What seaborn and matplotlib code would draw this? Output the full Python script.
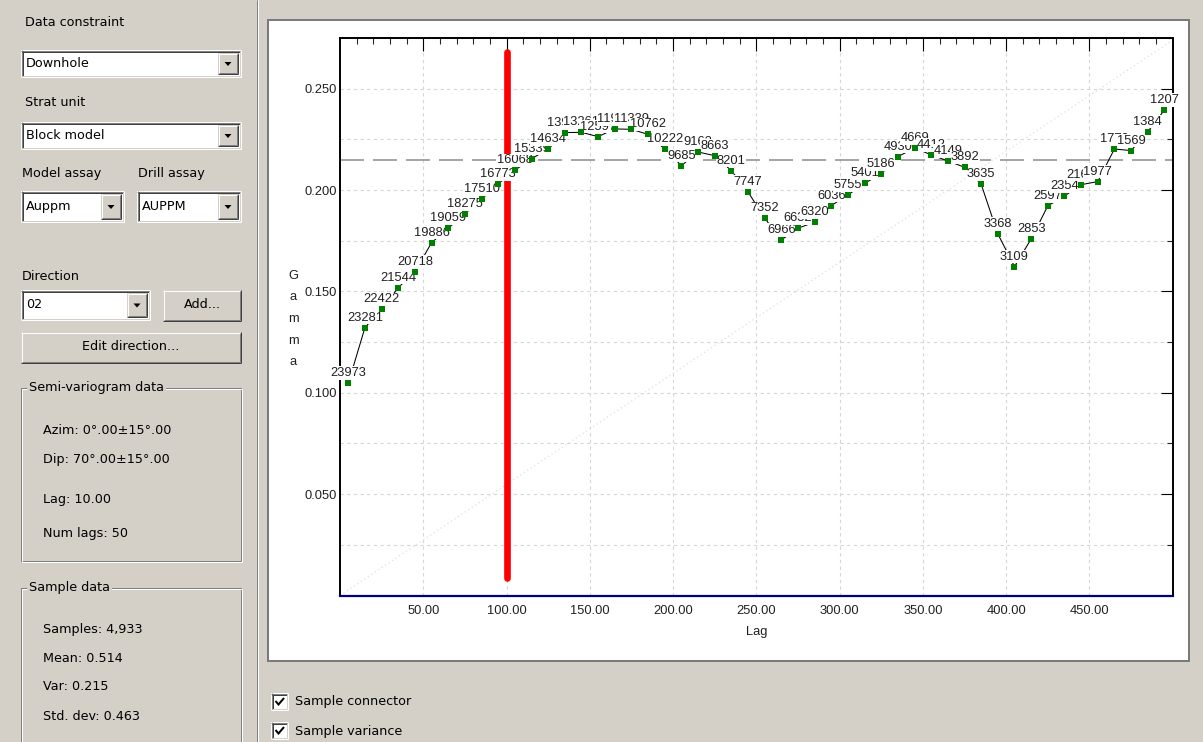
import numpy as np
import pandas as pd
import matplotlib
matplotlib.use("Agg")
import matplotlib.pyplot as plt
import seaborn as sns
from matplotlib import font_manager
from matplotlib.patches import Rectangle, Polygon
from matplotlib.ticker import FixedLocator, FormatStrFormatter

# ── data ─────────────────────────────────────────────────────
lags = [5, 15, 25, 35, 45, 55, 65, 75, 85, 95,
        105, 115, 125, 135, 145, 155, 165, 175, 185, 195,
        205, 215, 225, 235, 245, 255, 265, 275, 285, 295,
        305, 315, 325, 335, 345, 355, 365, 375, 385, 395,
        405, 415, 425, 435, 445, 455, 465, 475, 485, 495]
gamma = [0.1048, 0.1322, 0.1413, 0.1519, 0.1597, 0.1741, 0.1812, 0.1883, 0.1955, 0.2031,
         0.2098, 0.2155, 0.2202, 0.2284, 0.2285, 0.2264, 0.2302, 0.2300, 0.2275, 0.2202,
         0.2121, 0.2188, 0.2170, 0.2096, 0.1991, 0.1862, 0.1754, 0.1812, 0.1842, 0.1924,
         0.1976, 0.2034, 0.2080, 0.2165, 0.2208, 0.2174, 0.2144, 0.2113, 0.2029, 0.1784,
         0.1623, 0.1759, 0.1922, 0.1971, 0.2027, 0.2042, 0.2203, 0.2195, 0.2288, 0.2395]
pairs = [23973, 23281, 22422, 21544, 20718, 19886, 19059, 18275, 17510, 16773,
         16068, 15339, 14634, 13943, 13261, 12597, 11946, 11339, 10762, 10222,
         9685, 9162, 8663, 8201, 7747, 7352, 6966, 6632, 6320, 6036,
         5755, 5401, 5186, 4930, 4669, 4412, 4149, 3892, 3635, 3368,
         3109, 2853, 2597, 2354, 2160, 1977, 1770, 1569, 1384, 1207]

sill = 0.215                  # sample variance
range_lag = 100.0             # red range marker
range_span = [0.0088, 0.268]
model_lag = [0, 500]
model_gamma = [0.0, 0.274]

x_major = [50, 100, 150, 200, 250, 300, 350, 400, 450]
x_minor = [10, 20, 30, 40, 60, 70, 80, 90, 110, 120, 130, 140, 160, 170, 180, 190,
           210, 220, 230, 240, 260, 270, 280, 290, 310, 320, 330, 340, 360, 370, 380, 390,
           410, 420, 430, 440, 460, 470, 480, 490]
y_major = [0.05, 0.10, 0.15, 0.20, 0.25]
y_minor = [0.025, 0.075, 0.125, 0.175, 0.225, 0.275]

left_labels = ["Data constraint", "Strat unit", "Model assay", "Drill assay", "Direction"]
combo_texts = ["Downhole", "Block model", "Auppm", "AUPPM", "02"]
variogram_info = ["Azim: 0°.00±15°.00", "Dip: 70°.00±15°.00", "Lag: 10.00", "Num lags: 50"]
sample_info = ["Samples: 4,933", "Mean: 0.514", "Var: 0.215", "Std. dev: 0.463"]
checkbox_texts = ["Sample connector", "Sample variance"]

df = pd.DataFrame({"Lag": lags, "Gamma": gamma, "Pairs": pairs})

# ── styling ──────────────────────────────────────────────────
sns.set_style("white")
names = {f.name for f in font_manager.fontManager.ttflist}
if "Liberation Sans Narrow" in names:
    CHART_FONT, CHART_SIZE = "Liberation Sans Narrow", 11
else:
    CHART_FONT, CHART_SIZE = "Liberation Sans", 9.3
GUI_FONT, GUI_SIZE = "DejaVu Sans", 9.2
plt.rcParams["font.family"] = ["DejaVu Sans"]

GRAY = "#D4D0C8"
DARK = "#808080"
BLACKISH = "#404040"
PX = 0.72  # one pixel in points

W, H = 1203, 742
fig = plt.figure(figsize=(W / 100, H / 100), dpi=100, facecolor=GRAY)

# background "window" drawn in pixel coordinates
bg = fig.add_axes([0, 0, 1, 1], zorder=0)
bg.set_xlim(0, W)
bg.set_ylim(H, 0)
bg.axis("off")


def hline(x0, x1, y, c):
    bg.plot([x0, x1], [y, y], color=c, lw=PX, solid_capstyle="butt")


def vline(x, y0, y1, c):
    bg.plot([x, x], [y0, y1], color=c, lw=PX, solid_capstyle="butt")


def sunken(x0, y0, x1, y1, fill="white"):
    bg.add_patch(Rectangle((x0, y0), x1 - x0, y1 - y0, fc=fill, ec="none"))
    hline(x0, x1, y0 + 0.5, DARK); vline(x0 + 0.5, y0, y1, DARK)
    hline(x0 + 1, x1 - 1, y0 + 1.5, BLACKISH); vline(x0 + 1.5, y0 + 1, y1 - 1, BLACKISH)
    hline(x0, x1, y1 - 0.5, "white"); vline(x1 - 0.5, y0, y1, "white")
    hline(x0 + 1, x1 - 1, y1 - 1.5, GRAY); vline(x1 - 1.5, y0 + 1, y1 - 1, GRAY)


def raised(x0, y0, x1, y1):
    bg.add_patch(Rectangle((x0, y0), x1 - x0, y1 - y0, fc=GRAY, ec="none"))
    hline(x0, x1, y0 + 0.5, "white"); vline(x0 + 0.5, y0, y1, "white")
    hline(x0, x1, y1 - 0.5, BLACKISH); vline(x1 - 0.5, y0, y1, BLACKISH)
    hline(x0 + 1, x1 - 1, y1 - 1.5, DARK); vline(x1 - 1.5, y0 + 1, y1 - 1, DARK)


def combo(x0, y0, x1, y1, text):
    sunken(x0, y0, x1, y1)
    bx0, bx1, by0, by1 = x1 - 23, x1 - 3, y0 + 3, y1 - 3
    raised(bx0, by0, bx1, by1)
    cx, cy = (bx0 + bx1) / 2, (by0 + by1) / 2
    bg.add_patch(Polygon([(cx - 3.5, cy - 1.5), (cx + 3.5, cy - 1.5), (cx, cy + 2.5)],
                         closed=True, fc="black", ec="none"))
    bg.text(x0 + 5, (y0 + y1) / 2, text, ha="left", va="center",
            fontsize=GUI_SIZE, family=GUI_FONT, color="black")


def gui_text(x, y, s, ha="left"):
    bg.text(x, y, s, ha=ha, va="center", fontsize=GUI_SIZE, family=GUI_FONT, color="black")


def group(x0, y0, x1, y1, title):
    bg.add_patch(Rectangle((x0, y0), x1 - x0, y1 - y0, fc="none", ec=DARK, lw=PX))
    bg.add_patch(Rectangle((x0 + 1, y0 + 1), x1 - x0, y1 - y0, fc="none", ec="white", lw=PX))
    bg.text(x0 + 8, y0, title, ha="left", va="center", fontsize=GUI_SIZE, family=GUI_FONT,
            color="black", bbox=dict(boxstyle="square,pad=0.15", fc=GRAY, ec="none"))


def checkbox(x0, y0, text):
    sunken(x0, y0, x0 + 17, y0 + 17)
    bg.plot([x0 + 4.5, x0 + 7.5, x0 + 13], [y0 + 8, y0 + 11.5, y0 + 5],
            color="black", lw=2 * PX, solid_capstyle="butt", solid_joinstyle="miter")
    gui_text(x0 + 24, y0 + 9, text)


# left panel
gui_text(25, 23, left_labels[0])
combo(21, 50, 241, 77, combo_texts[0])
gui_text(25, 102, left_labels[1])
combo(21, 122, 241, 149, combo_texts[1])
gui_text(22, 173, left_labels[2])
gui_text(138, 173, left_labels[3])
combo(21, 191, 124, 222, combo_texts[2])
combo(137, 191, 241, 222, combo_texts[3])
gui_text(22, 277, left_labels[4])
combo(21, 290, 150, 320, combo_texts[4])
raised(163, 290, 241, 321)
gui_text(202, 305, "Add...", ha="center")
raised(21, 332, 241, 363)
gui_text(131, 347, "Edit direction...", ha="center")

group(21, 388, 241, 561, "Semi-variogram data")
for s, y in zip(variogram_info, [431, 460, 500, 533]):
    gui_text(43, y, s)
group(21, 588, 241, 770, "Sample data")
for s, y in zip(sample_info, [630, 658, 686, 716]):
    gui_text(43, y, s)

# splitter between panels
vline(256.5, 0, H, DARK)
vline(257.5, 0, H, "white")

# chart frame
bg.add_patch(Rectangle((268, 20), 921, 641, fc="white", ec="#7A7A7A", lw=2 * PX))

checkbox(271, 693, checkbox_texts[0])
checkbox(271, 722, checkbox_texts[1])

# ── variogram chart ──────────────────────────────────────────
x_left, x_right, y_top, y_bot = 340, 1172.7, 37.5, 595.5
ax = fig.add_axes([x_left / W, 1 - y_bot / H, (x_right - x_left) / W, (y_bot - y_top) / H],
                  zorder=2)
ax.set_facecolor("white")
ax.set_xlim(0, 500)
ax.set_ylim(0, 0.2753)

ax.xaxis.set_major_locator(FixedLocator(x_major))
ax.xaxis.set_minor_locator(FixedLocator(x_minor))
ax.yaxis.set_major_locator(FixedLocator(y_major))
ax.yaxis.set_minor_locator(FixedLocator(y_minor))
ax.xaxis.set_major_formatter(FormatStrFormatter("%.2f"))
ax.yaxis.set_major_formatter(FormatStrFormatter("%.3f"))

ax.set_axisbelow(True)
ax.grid(True, axis="x", which="major", color="#D6D6D6", lw=0.8, linestyle=(0, (3, 3)))
ax.grid(True, axis="y", which="both", color="#D6D6D6", lw=0.8, linestyle=(0, (3, 3)))

ax.tick_params(which="major", direction="in", length=9, width=0.8, top=True, right=True,
               colors="black", labelsize=CHART_SIZE, labelcolor="#202020")
ax.tick_params(which="minor", direction="in", length=4.5, width=0.8, top=True, right=True)
ax.tick_params(axis="x", which="major", pad=6.5)
ax.tick_params(axis="y", which="major", pad=2)
for lab in ax.get_xticklabels() + ax.get_yticklabels():
    lab.set_family(CHART_FONT)

for side in ["left", "right", "top"]:
    ax.spines[side].set_color("black")
    ax.spines[side].set_linewidth(1.4)
ax.spines["bottom"].set_color("#000080")
ax.spines["bottom"].set_linewidth(1.6)

# faint linear model
ax.plot(model_lag, model_gamma, color="#E4E4E4", lw=1.0, linestyle=(0, (1, 2)), zorder=1)

# sill
ax.axhline(sill, color="#8C8C8C", lw=1.1, linestyle=(0, (15.7, 5.9)), zorder=2.5)

# range marker
ax.plot([range_lag, range_lag], range_span, color="#FF0000", lw=4.8,
        solid_capstyle="round", zorder=2.8)

# sample connector
sns.lineplot(data=df, x="Lag", y="Gamma", color="black", linewidth=0.75, sort=False,
             estimator=None, ax=ax, zorder=3)

# pair-count labels (opaque, drawn in order)
for i, (lx, gy, n) in enumerate(zip(lags, gamma, pairs)):
    ax.annotate(str(n), (lx, gy), xytext=(0, 5), textcoords="offset points",
                ha="center", va="baseline", fontsize=CHART_SIZE, family=CHART_FONT,
                color="#202020", zorder=4 + i * 0.001,
                bbox=dict(boxstyle="square,pad=0.05", fc="white", ec="none"))

sns.scatterplot(data=df, x="Lag", y="Gamma", marker="s", s=19, color="#008000",
                linewidth=0, ax=ax, zorder=5)

ax.set_xlabel("Lag", fontsize=CHART_SIZE, family=CHART_FONT, color="#202020", labelpad=6.5)
ax.set_ylabel("")

for i, ch in enumerate("Gamma"):
    bg.text(293.5, 279 + i * 21.5, ch, ha="center", va="baseline",
            fontsize=CHART_SIZE, family=CHART_FONT, color="#202020")

fig.savefig("out.png", dpi=100, facecolor=GRAY)
